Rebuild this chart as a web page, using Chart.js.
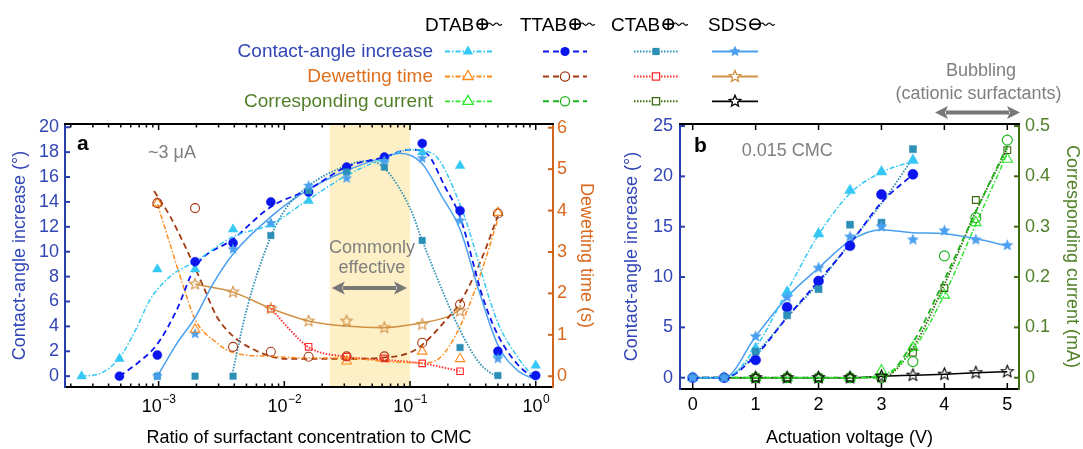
<!DOCTYPE html>
<html>
<head>
<meta charset="utf-8">
<script src="https://cdn.jsdelivr.net/npm/chart.js@4.4.0/dist/chart.umd.min.js"></script>
<style>
  html, body { margin: 0; padding: 0; background: #fff; }
  #wrap { position: relative; width: 1083px; height: 449px; overflow: hidden; }
  #ca { position: absolute; left: 0; top: 0; }
  #cb { position: absolute; left: 600px; top: 0; }
  #overlay { position: absolute; left: 0; top: 0; pointer-events: none; }
</style>
</head>
<body>
<div id="wrap">
  <canvas id="ca" width="600" height="449"></canvas>
  <canvas id="cb" width="483" height="449"></canvas>
  <canvas id="overlay" width="1083" height="449"></canvas>
</div>
<script>
// ---------- panel a: ratio of surfactant concentration to CMC ----------
const ratioA = [2.44e-4, 4.88e-4, 9.77e-4, 1.95e-3, 3.91e-3, 7.81e-3, 0.0156, 0.0313, 0.0625, 0.125, 0.25, 0.5, 1];
const dtabAngleA = [0, 1.4, 8.6, 8.6, 11.8, 12.2, 14.1, 16.5, 17.4, 18.0, 16.9, 1.8, 0.86];
const ttabAngleA = [null, 0, 1.7, 9.2, 10.7, 14.0, 14.8, 16.8, 17.6, 18.7, 13.3, 2.0, 0.05];
const ctabAngleA = [null, null, 0, 0, 0, 11.3, 14.9, 16.4, 16.8, 10.9, 2.3, 0.05, null];
const sdsAngleA  = [null, null, 0, 3.4, 10.2, 12.3, 15.3, 15.9, 17.3, 17.5, 12.5, 1.4, null];
const dtabDewetA = [null, null, 4.18, 1.13, null, null, null, 0.36, null, 0.60, 0.42, 3.95, null];
const ttabDewetA = [null, null, 4.18, 4.06, 0.71, 0.59, 0.47, 0.48, 0.48, 0.81, 1.73, 3.93, null];
const ctabDewetA = [null, null, null, null, null, 1.63, 0.71, 0.47, 0.43, 0.31, 0.12, null, null];
const sdsDewetA  = [null, null, null, 2.22, 2.03, 1.63, 1.33, 1.33, 1.17, 1.25, 1.57, null, null];

// fitted curves, [ratio, value]
const dtabAngleFitA = [[2.44e-4,0],[3.4e-4,0.2],[4.9e-4,1.5],[6.7e-4,3.9],[8.5e-4,6.1],[1.23e-3,8.0],[1.95e-3,9.2],[3.9e-3,11.2],[7.8e-3,12.2],[0.0156,14.2],[0.031,16.1],[0.0625,17.5],[0.1,18.2],[0.15,17.9],[0.25,13.8],[0.5,4.3],[0.71,1.6],[1,-0.3]];
const ttabAngleFitA = [[4.88e-4,0],[6.7e-4,1.0],[9.8e-4,2.6],[1.39e-3,5.3],[1.95e-3,8.75],[3.9e-3,11.0],[7.8e-3,13.6],[0.0156,15.0],[0.031,16.8],[0.0625,17.6],[0.1,18.2],[0.135,17.9],[0.19,15.2],[0.25,12.8],[0.38,6.3],[0.5,3.3],[0.71,1.0],[1,-0.3]];
const ctabAngleFitA = [[3.9e-3,0.4],[5.0e-3,5.3],[7.8e-3,11.2],[0.0105,13.6],[0.0156,15.3],[0.031,16.9],[0.045,17.3],[0.0625,16.7],[0.1,13.5],[0.124,11.0],[0.172,7.4],[0.25,3.7],[0.36,1.0],[0.5,-0.1]];
const sdsAngleFitA  = [[9.8e-4,0],[1.39e-3,2.6],[1.95e-3,4.7],[2.7e-3,7.4],[3.9e-3,9.8],[7.8e-3,12.8],[0.0156,15.0],[0.031,16.5],[0.0625,17.6],[0.083,17.9],[0.124,17.1],[0.18,14.4],[0.25,11.8],[0.35,7.0],[0.5,2.5],[0.71,0.5],[1,-0.3]];
const dtabDewetFitA = [[9.8e-4,4.15],[1.23e-3,3.2],[1.67e-3,1.93],[1.95e-3,1.37],[2.89e-3,0.81],[3.9e-3,0.57],[7.8e-3,0.48],[0.0156,0.44],[0.031,0.44],[0.0625,0.36],[0.124,0.32],[0.172,0.44],[0.25,1.2],[0.36,2.42],[0.5,3.79]];
const ttabDewetFitA = [[9.2e-4,4.47],[1.23e-3,3.87],[1.67e-3,3.06],[2.26e-3,2.18],[2.89e-3,1.45],[3.9e-3,0.97],[5.65e-3,0.65],[7.8e-3,0.48],[0.0105,0.42],[0.031,0.42],[0.061,0.45],[0.112,0.65],[0.195,1.37],[0.25,1.78],[0.36,2.74],[0.5,3.87]];
const ctabDewetFitA = [[7.9e-3,1.63],[0.011,1.13],[0.0158,0.69],[0.031,0.47],[0.061,0.40],[0.125,0.31],[0.205,0.18],[0.25,0.12]];
const sdsDewetFitA  = [[1.95e-3,2.22],[3.9e-3,2.03],[7.9e-3,1.63],[0.0158,1.33],[0.031,1.21],[0.061,1.17],[0.125,1.29],[0.205,1.45],[0.25,1.61]];

const decadesA = [1e-3, 1e-2, 1e-1, 1];
const decadeExpA = ['\u22123', '\u22122', '\u22121', '0'];
const angleTicksA = [0, 2, 4, 6, 8, 10, 12, 14, 16, 18, 20];
const dewetTicksA = [0, 1, 2, 3, 4, 5, 6];
const effectiveRange = [0.023, 0.1];

// ---------- panel b: actuation voltage ----------
const voltB = [0, 0.5, 1, 1.5, 2, 2.5, 3, 3.5, 4, 4.5, 5];
const dtabAngleB = [0, 0, 2.9, 8.5, 14.3, 18.6, 20.45, 21.6];
const ttabAngleB = [0, 0, 1.76, 7.0, 9.6, 13.1, 18.2, 20.2];
const ctabAngleB = [0, 0, 2.6, 6.2, 8.8, 15.2, 15.4, 22.7];
const sdsAngleB  = [0, 0, 4.1, 8.0, 10.9, 14.0, 15.0, 13.7, 14.6, 13.7, 13.15];
const dtabAngleFitB = [0, 0, 3.0, 8.6, 14.2, 18.3, 20.4, 21.5];
const ttabAngleFitB = [0, 0, 2.2, 6.0, 9.6, 13.3, 17.4, 20.2];
const ctabAngleFitB = [0, 0, 2.4, 6.0, 9.4, 13.4, 17.3, 21.8];
const sdsAngleFitB  = [0, 0, 4.1, 8.0, 10.9, 13.6, 14.7, 14.4, 14.3, 13.8, 13.1];
const dtabCurrentB = [null, null, 0, 0, 0, 0, 0.014, 0.06, 0.164, 0.308, 0.434];
const ttabCurrentB = [null, null, 0, 0, 0, 0, 0, 0.032, 0.242, 0.318, 0.472];
const ctabCurrentB = [null, null, 0, 0, 0, 0, 0, 0.05, 0.178, 0.353, 0.452];
const sdsCurrentB  = [null, null, 0, 0, 0, 0, 0.003, 0.005, 0.007, 0.01, 0.012];
const dtabCurrentFitB = [0, 0, 0, 0, 0, 0, 0.005, 0.055, 0.165, 0.305, 0.445];
const ttabCurrentFitB = [0, 0, 0, 0, 0, 0, 0, 0.07, 0.195, 0.33, 0.46];
const ctabCurrentFitB = [0, 0, 0, 0, 0, 0, 0, 0.06, 0.185, 0.33, 0.455];
const sdsCurrentFitB  = [0, 0, 0, 0, 0, 0, 0.003, 0.005, 0.007, 0.01, 0.012];

const voltTicksB = [0, 1, 2, 3, 4, 5];
const angleTicksB = [0, 5, 10, 15, 20, 25];
const currentTicksB = [0, 0.1, 0.2, 0.3, 0.4, 0.5];
const currentLabelsB = ['0', '0.1', '0.2', '0.3', '0.4', '0.5'];

// ---------- styles ----------
const FONT = '"Liberation Sans", Arial, Helvetica, sans-serif';
const BLUE_TXT = '#3346b5', BLUE_AX = '#2a3fae';
const ORANGE_TXT = '#d8691e', ORANGE_AX = '#d0651c';
const GREEN_TXT = '#52802a', GREEN_AX = '#3e6b12';
const GREY = '#7f7f7f';

const DASHDOT = [5, 2, 1.5, 2], DASHED = [6, 4], DOTTED = [1.5, 1.5];
const style = {
  dtabAngle:   { c: '#35c8f5', m: 'triangle', fill: true,  dash: DASHDOT, w: 1.5 },
  ttabAngle:   { c: '#0b16ee', m: 'circle',   fill: true,  dash: DASHED,  w: 1.8 },
  ctabAngle:   { c: '#2c8fb8', m: 'rect',     fill: true,  dash: DOTTED,  w: 1.8 },
  sdsAngle:    { c: '#4a9ff0', m: 'star',     fill: true,  dash: [],      w: 1.5 },
  dtabDewet:   { c: '#ff8a1c', m: 'triangle', fill: false, dash: DASHDOT, w: 1.5 },
  ttabDewet:   { c: '#a33a12', m: 'circle',   fill: false, dash: DASHED,  w: 1.8 },
  ctabDewet:   { c: '#ff2a2a', m: 'rect',     fill: false, dash: DOTTED,  w: 1.8 },
  sdsDewet:    { c: '#d29245', m: 'star',     fill: false, dash: [],      w: 1.5 },
  dtabCurrent: { c: '#2fe62f', m: 'triangle', fill: false, dash: DASHDOT, w: 1.5 },
  ttabCurrent: { c: '#1cb41c', m: 'circle',   fill: false, dash: DASHED,  w: 1.8 },
  ctabCurrent: { c: '#3a6a10', m: 'rect',     fill: false, dash: DOTTED,  w: 1.8 },
  sdsCurrent:  { c: '#000000', m: 'star',     fill: false, dash: [],      w: 1.5 }
};

Chart.defaults.font.family = FONT;

function starPath(ctx, cx, cy, ro, ri) {
  ctx.beginPath();
  for (let i = 0; i < 10; i++) {
    const r = i % 2 ? ri : ro;
    const a = -Math.PI / 2 + i * Math.PI / 5;
    ctx.lineTo(cx + r * Math.cos(a), cy + r * Math.sin(a));
  }
  ctx.closePath();
}
function starImage(st, ro) {
  const c = document.createElement('canvas');
  const s = Math.ceil(2 * ro + 4);
  c.width = s; c.height = s;
  const g = c.getContext('2d');
  starPath(g, s / 2, s / 2, ro, ro * 0.45);
  if (st.fill) { g.fillStyle = st.c; g.fill(); }
  else { g.strokeStyle = st.c; g.lineWidth = 1.1; g.stroke(); }
  return c;
}

function pts(xs, ys) {
  return ys.map((y, i) => ({ x: xs[i], y: y })).filter(p => p.y !== null);
}
function pairs(arr) {
  return arr.map(p => ({ x: p[0], y: p[1] }));
}
function markers(data, st, axis, size) {
  return {
    data: data, yAxisID: axis, showLine: false, order: 1,
    pointStyle: st.m === 'star' ? starImage(st, size + 0.8) : st.m,
    pointRadius: size,
    pointBackgroundColor: st.fill ? st.c : 'rgba(0,0,0,0)',
    pointBorderColor: st.c,
    pointBorderWidth: st.fill ? 0.5 : 1.1
  };
}
function curve(data, st, axis) {
  return {
    type: 'line', data: data, yAxisID: axis, order: 2,
    pointRadius: 0, borderColor: st.c, borderWidth: st.w, borderDash: st.dash,
    cubicInterpolationMode: 'monotone', fill: false
  };
}

function line(ctx, x1, y1, x2, y2, color, w) {
  ctx.beginPath();
  ctx.moveTo(x1, y1); ctx.lineTo(x2, y2);
  ctx.strokeStyle = color; ctx.lineWidth = w; ctx.setLineDash([]);
  ctx.stroke();
}
function doubleArrow(ctx, x1, x2, y, color) {
  const head = 13, half = 6.5;
  ctx.save();
  line(ctx, x1 + head - 2, y, x2 - head + 2, y, color, 4);
  ctx.fillStyle = color;
  ctx.beginPath();
  ctx.moveTo(x1, y); ctx.lineTo(x1 + head, y - half); ctx.lineTo(x1 + head - 3, y); ctx.lineTo(x1 + head, y + half);
  ctx.closePath(); ctx.fill();
  ctx.beginPath();
  ctx.moveTo(x2, y); ctx.lineTo(x2 - head, y - half); ctx.lineTo(x2 - head + 3, y); ctx.lineTo(x2 - head, y + half);
  ctx.closePath(); ctx.fill();
  ctx.restore();
}

// frame, inward ticks and annotations
function framePlugin(opt) {
  return {
    id: 'frame_' + opt.name,
    beforeDatasetsDraw(chart) {
      if (!opt.shade) return;
      const { ctx, chartArea: a, scales } = chart;
      const x0 = scales.x.getPixelForValue(opt.shade[0]);
      const x1 = scales.x.getPixelForValue(opt.shade[1]);
      ctx.save();
      ctx.fillStyle = '#fdf0c6';
      ctx.fillRect(x0, a.top + 1, x1 - x0, a.bottom - a.top - 2);
      ctx.restore();
    },
    afterDraw(chart) {
      const { ctx, chartArea: a, scales } = chart;
      ctx.save();
      line(ctx, a.left - 1, a.top, a.right + 1, a.top, '#000', 2);
      scales.x.ticks.forEach(t => {
        const px = scales.x.getPixelForValue(t.value);
        const len = opt.isMajor(t.value) ? 6 : 3.5;
        line(ctx, px, a.bottom, px, a.bottom - len, '#000', 1.5);
        line(ctx, px, a.top, px, a.top + len, '#000', 1.5);
      });
      scales.y.ticks.forEach(t => {
        const py = scales.y.getPixelForValue(t.value);
        line(ctx, a.left, py, a.left + 5, py, opt.yColor, 2);
      });
      scales.y2.ticks.forEach(t => {
        const py = scales.y2.getPixelForValue(t.value);
        line(ctx, a.right, py, a.right - 5, py, opt.y2Color, 2);
      });
      if (opt.after) opt.after(chart, ctx, a, scales);
      ctx.restore();
    }
  };
}

function titleOpt(text, color, pad) {
  return { display: true, text: text, color: color, font: { family: FONT, size: 18 }, padding: pad };
}

// ---------- chart a ----------
const logTicksA = [];
[-4, -3, -2, -1, 0].forEach(e => {
  for (let m = 1; m <= 9; m++) logTicksA.push(m * Math.pow(10, e));
});

new Chart(document.getElementById('ca'), {
  type: 'scatter',
  data: {
    datasets: [
      markers(pts(ratioA, sdsDewetA), style.sdsDewet, 'y2', 5),
      markers(pts(ratioA, ctabDewetA), style.ctabDewet, 'y2', 4.6),
      markers(pts(ratioA, ttabDewetA), style.ttabDewet, 'y2', 4.5),
      markers(pts(ratioA, dtabDewetA), style.dtabDewet, 'y2', 5.5),
      markers(pts(ratioA, sdsAngleA), style.sdsAngle, 'y', 5),
      markers(pts(ratioA, ctabAngleA), style.ctabAngle, 'y', 4.6),
      markers(pts(ratioA, ttabAngleA), style.ttabAngle, 'y', 4.5),
      markers(pts(ratioA, dtabAngleA), style.dtabAngle, 'y', 5.5),
      curve(pairs(dtabAngleFitA), style.dtabAngle, 'y'),
      curve(pairs(ttabAngleFitA), style.ttabAngle, 'y'),
      curve(pairs(ctabAngleFitA), style.ctabAngle, 'y'),
      curve(pairs(sdsAngleFitA), style.sdsAngle, 'y'),
      curve(pairs(dtabDewetFitA), style.dtabDewet, 'y2'),
      curve(pairs(ttabDewetFitA), style.ttabDewet, 'y2'),
      curve(pairs(ctabDewetFitA), style.ctabDewet, 'y2'),
      curve(pairs(sdsDewetFitA), style.sdsDewet, 'y2')
    ]
  },
  options: {
    responsive: false, animation: false, devicePixelRatio: 1,
    layout: { padding: { top: 124, left: 0, right: 0, bottom: 0 } },
    plugins: { legend: { display: false }, tooltip: { enabled: false } },
    scales: {
      x: {
        type: 'logarithmic', min: 1.8e-4, max: 1.372, bounds: 'data',
        afterFit: s => { s.height = 62; },
        afterBuildTicks: s => { s.ticks = logTicksA.filter(v => v >= s.min && v <= s.max).map(v => ({ value: v })); },
        ticks: { display: false },
        grid: { display: false, drawTicks: false },
        border: { display: true, color: '#000', width: 2 },
        title: titleOpt('Ratio of surfactant concentration to CMC', '#000', { top: 0, bottom: 0.5 })
      },
      y: {
        position: 'left', min: -0.87, max: 20.26, bounds: 'data',
        afterFit: s => { s.width = 65; },
        afterBuildTicks: s => { s.ticks = angleTicksA.map(v => ({ value: v })); },
        ticks: { color: BLUE_TXT, font: { size: 18 }, padding: 6 },
        grid: { display: false, drawTicks: false },
        border: { display: true, color: BLUE_AX, width: 2 },
        title: titleOpt('Contact-angle increase (\u00b0)', BLUE_TXT, { top: 9, bottom: 0 })
      },
      y2: {
        position: 'right', min: -0.26, max: 6.09, bounds: 'data',
        afterFit: s => { s.width = 47; },
        afterBuildTicks: s => { s.ticks = dewetTicksA.map(v => ({ value: v })); },
        ticks: { color: ORANGE_TXT, font: { size: 18 }, padding: 4 },
        grid: { display: false, drawTicks: false },
        border: { display: true, color: ORANGE_AX, width: 2 },
        title: titleOpt('Dewetting time (s)', ORANGE_TXT, { top: 3, bottom: 0 })
      }
    }
  },
  plugins: [framePlugin({
    name: 'a', shade: effectiveRange, yColor: BLUE_AX, y2Color: ORANGE_AX,
    isMajor: v => decadesA.some(d => Math.abs(v / d - 1) < 1e-6),
    after: (chart, ctx, a, scales) => {
      // decade labels 10^n
      decadesA.forEach((d, i) => {
        const px = scales.x.getPixelForValue(d);
        ctx.font = '18px ' + FONT;
        const w1 = ctx.measureText('10').width;
        ctx.font = '12px ' + FONT;
        const w2 = ctx.measureText(decadeExpA[i]).width;
        const x0 = px - (w1 + w2) / 2;
        ctx.fillStyle = '#000';
        ctx.textAlign = 'left'; ctx.textBaseline = 'alphabetic';
        ctx.font = '18px ' + FONT;
        ctx.fillText('10', x0, 411.5);
        ctx.font = '12px ' + FONT;
        ctx.fillText(decadeExpA[i], x0 + w1 + 0.5, 403);
      });
      ctx.fillStyle = '#000';
      ctx.font = 'bold 21px ' + FONT;
      ctx.textAlign = 'left'; ctx.textBaseline = 'alphabetic';
      ctx.fillText('a', 77, 149.5);
      ctx.fillStyle = GREY;
      ctx.font = '18px ' + FONT;
      ctx.fillText('~3 \u03bcA', 148, 158);
      ctx.textAlign = 'center';
      const cx = (scales.x.getPixelForValue(effectiveRange[0]) + scales.x.getPixelForValue(effectiveRange[1])) / 2;
      ctx.fillText('Commonly', cx + 2, 253);
      ctx.fillText('effective', cx + 2, 273);
      doubleArrow(ctx, scales.x.getPixelForValue(effectiveRange[0]) + 2, scales.x.getPixelForValue(effectiveRange[1]) - 3, 288, '#777');
    }
  })]
});

// ---------- chart b ----------
new Chart(document.getElementById('cb'), {
  type: 'scatter',
  data: {
    datasets: [
      markers(pts(voltB, sdsCurrentB), style.sdsCurrent, 'y2', 5.5),
      markers(pts(voltB, ctabCurrentB), style.ctabCurrent, 'y2', 4.8),
      markers(pts(voltB, ttabCurrentB), style.ttabCurrent, 'y2', 5),
      markers(pts(voltB, dtabCurrentB), style.dtabCurrent, 'y2', 6),
      markers(pts(voltB, sdsAngleB), style.sdsAngle, 'y', 5.5),
      markers(pts(voltB, ctabAngleB), style.ctabAngle, 'y', 5),
      markers(pts(voltB, ttabAngleB), style.ttabAngle, 'y', 5),
      markers(pts(voltB, dtabAngleB), style.dtabAngle, 'y', 6.3),
      curve(pts(voltB, dtabAngleFitB), style.dtabAngle, 'y'),
      curve(pts(voltB, ttabAngleFitB), style.ttabAngle, 'y'),
      curve(pts(voltB, ctabAngleFitB), style.ctabAngle, 'y'),
      curve(pts(voltB, sdsAngleFitB), style.sdsAngle, 'y'),
      curve(pts(voltB, dtabCurrentFitB), style.dtabCurrent, 'y2'),
      curve(pts(voltB, ttabCurrentFitB), style.ttabCurrent, 'y2'),
      curve(pts(voltB, ctabCurrentFitB), style.ctabCurrent, 'y2'),
      curve(pts(voltB, sdsCurrentFitB), style.sdsCurrent, 'y2')
    ]
  },
  options: {
    responsive: false, animation: false, devicePixelRatio: 1,
    layout: { padding: { top: 124, left: 0, right: 0, bottom: 0 } },
    plugins: { legend: { display: false }, tooltip: { enabled: false } },
    scales: {
      x: {
        type: 'linear', min: -0.202, max: 5.186, bounds: 'data',
        afterFit: s => { s.height = 60; },
        afterBuildTicks: s => { s.ticks = voltTicksB.map(v => ({ value: v })); },
        ticks: { color: '#000', font: { size: 18 }, padding: 5 },
        grid: { display: false, drawTicks: false },
        border: { display: true, color: '#000', width: 2 },
        title: titleOpt('Actuation voltage (V)', '#000', { top: 0, bottom: 0.5 })
      },
      y: {
        position: 'left', min: -1.12, max: 25.2, bounds: 'data',
        afterFit: s => { s.width = 80; },
        afterBuildTicks: s => { s.ticks = angleTicksB.map(v => ({ value: v })); },
        ticks: { color: BLUE_TXT, font: { size: 18 }, padding: 7 },
        grid: { display: false, drawTicks: false },
        border: { display: true, color: BLUE_AX, width: 2 },
        title: titleOpt('Contact-angle increase (\u00b0)', BLUE_TXT, { top: 21, bottom: 0 })
      },
      y2: {
        position: 'right', min: -0.0224, max: 0.504, bounds: 'data',
        afterFit: s => { s.width = 64; },
        afterBuildTicks: s => { s.ticks = currentTicksB.map(v => ({ value: v })); },
        ticks: { color: GREEN_TXT, font: { size: 18 }, padding: 6, callback: (v, i) => currentLabelsB[i] },
        grid: { display: false, drawTicks: false },
        border: { display: true, color: GREEN_AX, width: 2 },
        title: titleOpt('Corresponding current (mA)', GREEN_TXT, { top: 0.5, bottom: 0 })
      }
    }
  },
  plugins: [framePlugin({
    name: 'b', yColor: BLUE_AX, y2Color: GREEN_AX,
    isMajor: () => true,
    after: (chart, ctx) => {
      ctx.fillStyle = '#000';
      ctx.font = 'bold 21px ' + FONT;
      ctx.textAlign = 'left'; ctx.textBaseline = 'alphabetic';
      ctx.fillText('b', 94, 151.5);
      ctx.fillStyle = GREY;
      ctx.font = '18px ' + FONT;
      ctx.fillText('0.015 CMC', 141.7, 155.5);
    }
  })]
});

// ---------- legend and top annotations ----------
(function drawOverlay() {
  const ctx = document.getElementById('overlay').getContext('2d');
  const cols = [
    { name: 'DTAB', plus: true,  hx: 425, x0: 445, x1: 492, mx: 468 },
    { name: 'TTAB', plus: true,  hx: 520, x0: 543, x1: 587, mx: 565 },
    { name: 'CTAB', plus: true,  hx: 611, x0: 634, x1: 679, mx: 656 },
    { name: 'SDS',  plus: false, hx: 708, x0: 712, x1: 758, mx: 735 }
  ];
  const rows = [
    { text: 'Contact-angle increase', color: BLUE_TXT, y: 51.5, keys: ['dtabAngle', 'ttabAngle', 'ctabAngle', 'sdsAngle'] },
    { text: 'Dewetting time', color: '#e0701f', y: 76.5, keys: ['dtabDewet', 'ttabDewet', 'ctabDewet', 'sdsDewet'] },
    { text: 'Corresponding current', color: GREEN_TXT, y: 101.3, keys: ['dtabCurrent', 'ttabCurrent', 'ctabCurrent', 'sdsCurrent'] }
  ];

  ctx.textBaseline = 'alphabetic';
  ctx.font = '19px ' + FONT;
  cols.forEach(c => {
    ctx.fillStyle = '#000';
    ctx.textAlign = 'left';
    ctx.fillText(c.name, c.hx, 31);
    const end = c.hx + ctx.measureText(c.name).width;
    const cx = end + 8, cy = 24.2, r = 5.2;
    ctx.beginPath(); ctx.arc(cx, cy, r, 0, Math.PI * 2);
    ctx.strokeStyle = '#000'; ctx.lineWidth = 1.7; ctx.setLineDash([]); ctx.stroke();
    ctx.beginPath(); ctx.moveTo(cx - r, cy); ctx.lineTo(cx + r, cy);
    if (c.plus) { ctx.moveTo(cx, cy - r); ctx.lineTo(cx, cy + r); }
    ctx.stroke();
    ctx.beginPath(); ctx.lineWidth = 1.2;
    let x = cx + r; ctx.moveTo(x, cy);
    for (let k = 0; k < 4; k++) {
      ctx.quadraticCurveTo(x + 1.8, cy + (k % 2 ? 2.4 : -2.4), x + 3.6, cy);
      x += 3.6;
    }
    ctx.stroke();
  });

  rows.forEach(row => {
    ctx.font = '19px ' + FONT;
    ctx.fillStyle = row.color;
    ctx.textAlign = 'right';
    ctx.fillText(row.text, 433, row.y + 5.8);
    row.keys.forEach((k, i) => {
      const st = style[k], c = cols[i];
      ctx.beginPath();
      ctx.moveTo(c.x0, row.y); ctx.lineTo(c.x1, row.y);
      ctx.strokeStyle = st.c; ctx.lineWidth = st.w + 0.3; ctx.setLineDash(st.dash);
      ctx.stroke();
      ctx.setLineDash([]);
      const x = c.mx, y = row.y;
      ctx.beginPath();
      if (st.m === 'triangle') {
        const r = 6;
        ctx.moveTo(x, y - r); ctx.lineTo(x + r * 0.866, y + r / 2); ctx.lineTo(x - r * 0.866, y + r / 2); ctx.closePath();
      } else if (st.m === 'circle') {
        ctx.arc(x, y, 4.6, 0, Math.PI * 2);
      } else if (st.m === 'rect') {
        ctx.rect(x - 3.6, y - 3.6, 7.2, 7.2);
      } else {
        starPath(ctx, x, y, 6, 2.7);
      }
      if (st.fill) { ctx.fillStyle = st.c; ctx.fill(); }
      else { ctx.fillStyle = '#fff'; ctx.fill(); ctx.strokeStyle = st.c; ctx.lineWidth = 1.3; ctx.stroke(); }
    });
  });

  ctx.fillStyle = GREY;
  ctx.font = '18px ' + FONT;
  ctx.textAlign = 'center';
  ctx.fillText('Bubbling', 981, 76);
  ctx.fillText('(cationic surfactants)', 978.5, 98.5);
  doubleArrow(ctx, 935, 1020, 112.5, '#777');
})();
</script>
</body>
</html>
